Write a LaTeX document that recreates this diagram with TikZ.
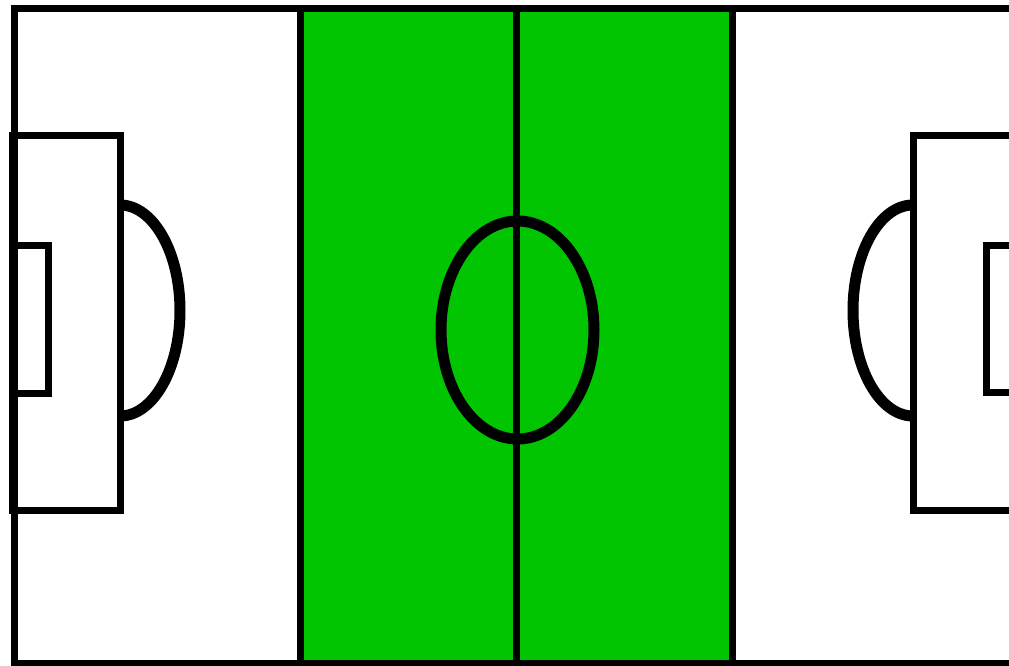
\documentclass[tikz,border=0pt]{standalone}
\usepackage{tikz}
\definecolor{pitchgreen}{RGB}{0,197,0}

\begin{document}
\begin{tikzpicture}[x=1pt, y=1pt, line join=miter]
    \tikzset{
        pitchline/.style={draw=black, line width=7pt},
        thickline/.style={draw=black, line width=11pt}
    }
    \useasboundingbox (0,0) rectangle (1009,665);
    \clip (0,0) rectangle (1009,665);

    \coordinate (SW) at (14,1.5);
    \coordinate (NE) at (1020,656);
    \coordinate (GL) at (300,1.5); % green band, left bottom
    \coordinate (GR) at (732,656);
    \coordinate (M) at (517.5,335); % centre of the ellipse

    \fill[pitchgreen] (GL) rectangle (GR);
    \draw[pitchline] (SW) rectangle (NE);
    \draw[pitchline] (GL) -- (300,656);
    \draw[pitchline] (732,1.5) -- (GR);
    \draw[pitchline] (516,1.5) -- (516,656); % halfway line

    \draw[thickline] (M) ellipse [x radius=76.5, y radius=109];

    % left end
    \draw[pitchline] (12,155) rectangle (120,529);
    \draw[pitchline] (12,272) rectangle (48,419);
    \draw[thickline] (120,460) arc [start angle=90, end angle=-90, x radius=60, y radius=105.5];

    % right end
    \draw[pitchline] (913,155) rectangle (1020,529);
    \draw[pitchline] (986,273) rectangle (1020,419);
    \draw[thickline] (913,460) arc [start angle=90, end angle=270, x radius=60, y radius=105.5];
\end{tikzpicture}
\end{document}
